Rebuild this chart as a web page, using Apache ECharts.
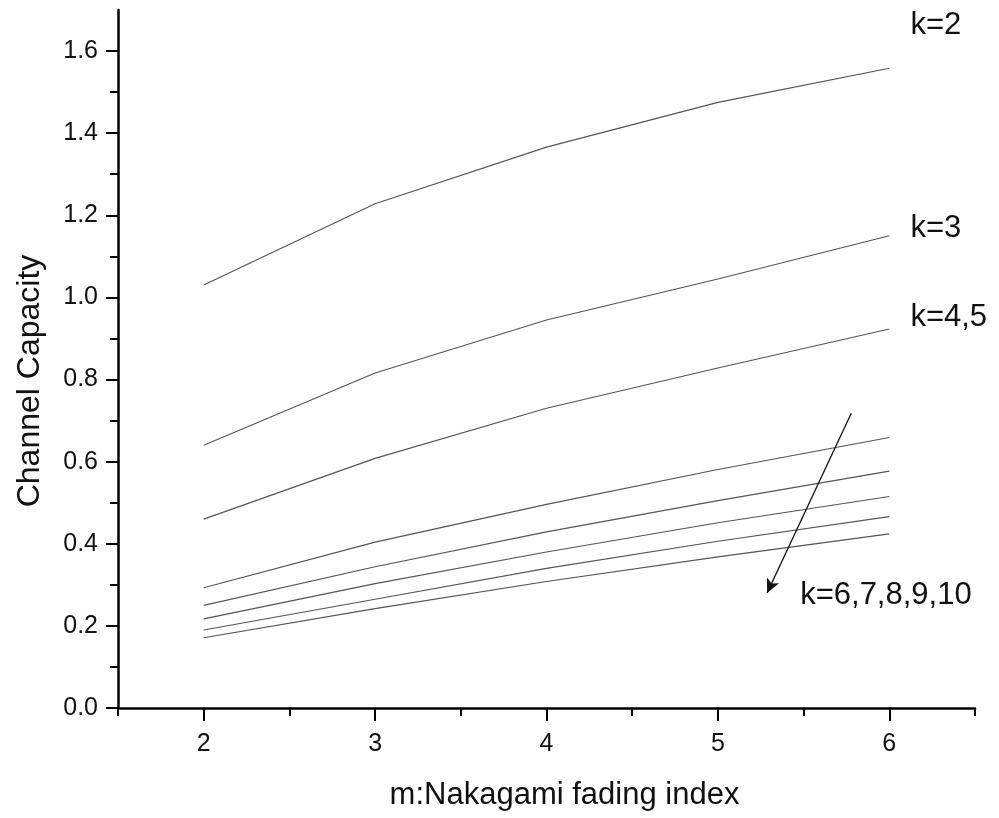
<!DOCTYPE html>
<html>
<head>
<meta charset="utf-8">
<script src="https://cdn.jsdelivr.net/npm/echarts@6/dist/echarts.min.js"></script>
<style>
html,body{margin:0;padding:0;background:#fff;}
#main{width:999px;height:818px;}
</style>
</head>
<body>
<div id="main"></div>
<script>
const mValues = [2, 3, 4, 5, 6];
const capK2 = [1.030, 1.228, 1.366, 1.475, 1.558];
const capK3 = [0.640, 0.816, 0.945, 1.045, 1.150];
const capK45 = [0.460, 0.608, 0.730, 0.828, 0.923];
const capK6 = [0.293, 0.404, 0.496, 0.581, 0.659];
const capK7 = [0.250, 0.344, 0.429, 0.505, 0.577];
const capK8 = [0.217, 0.303, 0.380, 0.451, 0.515];
const capK9 = [0.190, 0.265, 0.340, 0.406, 0.466];
const capK10 = [0.171, 0.242, 0.308, 0.368, 0.424];
const xMajorTicks = [2, 3, 4, 5, 6];
const xMinorTicks = [1.5, 2.5, 3.5, 4.5, 5.5, 6.5];
const yMajorTicks = [0, 0.2, 0.4, 0.6, 0.8, 1.0, 1.2, 1.4, 1.6];
const yMinorTicks = [0.1, 0.3, 0.5, 0.7, 0.9, 1.1, 1.3, 1.5];
const annotations = [
  {text: 'k=2', x: 6.123, y: 1.663},
  {text: 'k=3', x: 6.123, y: 1.167},
  {text: 'k=4,5', x: 6.123, y: 0.950},
  {text: 'k=6,7,8,9,10', x: 5.48, y: 0.275}
];
const arrowFrom = [5.778, 0.718];
const arrowTo = [5.287, 0.280];

const allSeries = [capK2, capK3, capK45, capK6, capK7, capK8, capK9, capK10];
const FONT = '"Liberation Sans", Arial, sans-serif';

const chart = echarts.init(document.getElementById('main'), null, {renderer: 'canvas'});

const series = allSeries.map((vals) => ({
  type: 'line',
  xAxisIndex: 0,
  yAxisIndex: 0,
  data: mValues.map((m, j) => [m, vals[j]]),
  showSymbol: false,
  symbol: 'none',
  lineStyle: {color: '#555', width: 1.1},
  silent: true,
  animation: false
}));
series[0].markLine = {
  silent: true,
  animation: false,
  symbol: ['none', 'arrow'],
  symbolSize: [10, 14],
  label: {show: false},
  lineStyle: {color: '#111', width: 1.3, type: 'solid'},
  data: [[{coord: arrowFrom}, {coord: arrowTo}]]
};

const axisLineStyle = {color: '#000', width: 2.5};

chart.setOption({
  animation: false,
  backgroundColor: '#fff',
  grid: {left: 118, right: 24, top: 10, bottom: 110, containLabel: false},
  xAxis: [
    {
      type: 'value', min: 1.5, max: 6.5,
      name: 'm:Nakagami fading index',
      nameLocation: 'middle', nameGap: 72,
      nameTextStyle: {fontFamily: FONT, fontSize: 31, color: '#111', padding: [0, 0, 0, 36]},
      axisLine: {show: true, onZero: false, lineStyle: axisLineStyle},
      axisTick: {show: true, inside: false, length: 13, lineStyle: {color: '#000', width: 2}, customValues: xMajorTicks},
      axisLabel: {show: true, margin: 24, fontFamily: FONT, fontSize: 25, color: '#111', customValues: xMajorTicks, formatter: v => String(v)},
      splitLine: {show: false}
    },
    {
      type: 'value', min: 1.5, max: 6.5, position: 'bottom',
      axisLine: {show: false, onZero: false},
      axisTick: {show: true, length: 8, lineStyle: {color: '#000', width: 2}, customValues: xMinorTicks},
      axisLabel: {show: false},
      splitLine: {show: false}
    }
  ],
  yAxis: [
    {
      type: 'value', min: 0, max: 1.7,
      name: 'Channel Capacity',
      nameLocation: 'middle', nameGap: 72, nameRotate: 90,
      nameTextStyle: {fontFamily: FONT, fontSize: 32, color: '#111', padding: [0, 44, 0, 0]},
      axisLine: {show: true, onZero: false, lineStyle: axisLineStyle},
      axisTick: {show: true, length: 12, lineStyle: {color: '#000', width: 2}, customValues: yMajorTicks},
      axisLabel: {show: true, margin: 20, fontFamily: FONT, fontSize: 25, color: '#111', customValues: yMajorTicks, formatter: v => v.toFixed(1)},
      splitLine: {show: false}
    },
    {
      type: 'value', min: 0, max: 1.7, position: 'left',
      axisLine: {show: false, onZero: false},
      axisTick: {show: true, length: 8, lineStyle: {color: '#000', width: 2}, customValues: yMinorTicks},
      axisLabel: {show: false},
      splitLine: {show: false}
    }
  ],
  series: series
});

const graphics = annotations.map(a => {
  const p = chart.convertToPixel({xAxisIndex: 0, yAxisIndex: 0}, [a.x, a.y]);
  return {
    type: 'text',
    x: p[0], y: p[1],
    style: {text: a.text, fill: '#111', font: '31px ' + FONT, textAlign: 'left', textVerticalAlign: 'middle'},
    silent: true
  };
});
chart.setOption({graphic: graphics});
</script>
</body>
</html>
